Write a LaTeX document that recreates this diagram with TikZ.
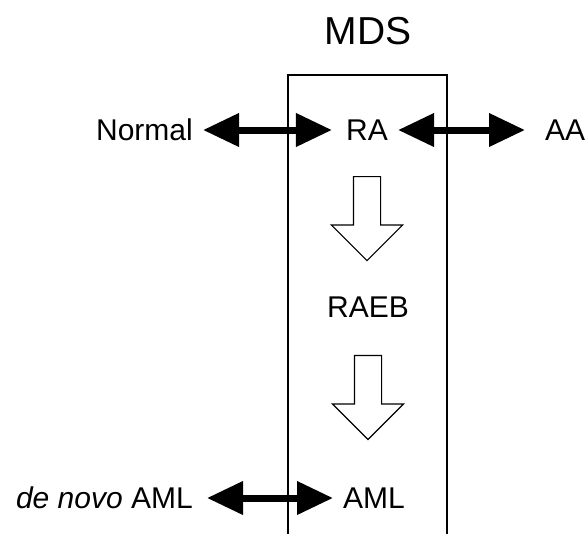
\documentclass[tikz,border=0pt]{standalone}
\usepackage{fontspec}
\setmainfont{Liberation Sans}
\usetikzlibrary{arrows.meta,shapes.arrows}

\begin{document}
\begin{tikzpicture}[x=1pt,y=-1pt,
      font=\fontsize{30}{36}\selectfont,
      lbl/.style={inner sep=0pt},
      ttl/.style={lbl,font=\fontsize{39}{46}\selectfont},
      dbl/.style={{Triangle[length=36pt,width=32pt]}-{Triangle[length=36pt,width=32pt]},
                  line width=7pt},
      prog/.style={single arrow,draw,line width=1.2pt,shape border rotate=270,
                   minimum height=84pt,minimum width=70pt,anchor=tail,
                   single arrow head extend=22pt,inner xsep=13pt,inner ysep=0pt},
      frame/.style={line width=1.6pt}]
    \useasboundingbox (0,0) rectangle (585,533);

    % ---------- MDS column ----------
    \node[ttl] (mds) at (368,31) {MDS};
    \draw[frame] (288,536) |- (447,75) -- (447,536);

    \node[lbl] (ra)   at (367,130) {RA};
    \node[lbl] (raeb) at (368,307) {RAEB};
    \node[lbl,anchor=west] (aml) at (343,498) {AML};
    \path (ra.center) -- node[prog,pos=0.260]{} (ra |- raeb);
    \path (raeb.center) -- node[prog,pos=0.251]{} (raeb |- aml);

    % ---------- outside the column ----------
    \node[lbl,anchor=east] (normal) at (193,130) {Normal};
    \node[lbl,anchor=west] (aa)     at (545,130) {AA};
    \node[lbl,anchor=east] (dnv)    at (193,498) {\textit{de novo} AML};

    \draw[dbl,shorten <=10pt,shorten >=14pt] (normal) -- (ra);
    \draw[dbl,shorten <=10pt,shorten >=20pt] (ra) -- (aa);
    \draw[dbl,shorten <=14pt,shorten >=10pt] (dnv) -- (aml);
\end{tikzpicture}
\end{document}
